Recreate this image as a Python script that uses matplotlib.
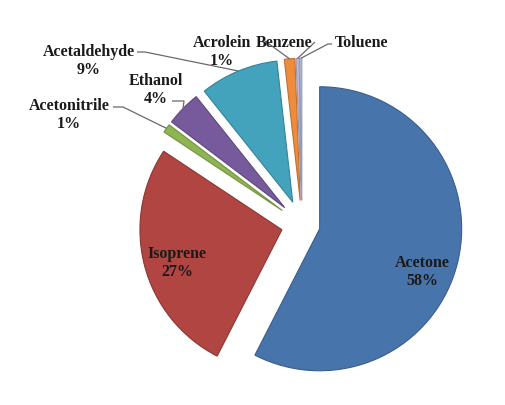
import numpy as np
import matplotlib
matplotlib.use("Agg")
import matplotlib.pyplot as plt
import matplotlib.colors as mcolors

categories = ["Acetone", "Isoprene", "Acetonitrile", "Ethanol", "Acetaldehyde",
              "Acrolein", "Benzene", "Toluene"]
values = [58, 27, 1, 4, 9, 1.2, 0.35, 0.25]
pct_labels = ["58%", "27%", "1%", "4%", "9%", "1%", "", ""]
colors = ["#4874ac", "#b04542", "#8fb552", "#775a9b", "#43a3bd", "#ef8c3c",
          "#c3b8d8", "#b4c4e2"]
explode = [0.128, 0.146, 0.17, 0.17, 0.17, 0.17, 0.17, 0.17]

W, H = 505, 406
fig = plt.figure(figsize=(W / 100, H / 100), dpi=100)
ax = fig.add_axes([0, 0, 1, 1])
R = 142.0
cx, cy = 302.0, 225.5


def px(x, y):
    return ((x - cx) / R, (cy - y) / R)


wedges, _ = ax.pie(values, colors=colors, explode=explode, startangle=90,
                   counterclock=False, radius=1.0,
                   wedgeprops=dict(linewidth=0.8))
for w, c in zip(wedges, colors):
    rgb = np.array(mcolors.to_rgb(c)) * 0.8
    w.set_edgecolor(rgb)
ax.set_xlim(-cx / R, (W - cx) / R)
ax.set_ylim(-(H - cy) / R, cy / R)
ax.set_aspect("equal")
ax.axis("off")

font = dict(family="Liberation Serif", fontweight="bold", fontsize=11.5, color="#1a1a1a")

label_pos = {
    "Acetone": (422, 272),
    "Isoprene": (177, 263),
    "Acetonitrile": (69, 115),
    "Ethanol": (156, 90),
    "Acetaldehyde": (89, 61),
    "Acrolein": (222, 52),
    "Benzene": (284, 52),
    "Toluene": (362, 52),
}
leader_start = {
    "Acetonitrile": ((113, 108), 10),
    "Ethanol": ((172, 102), 12),
    "Acetaldehyde": ((137, 53), 8),
    "Acrolein": ((265, 42), 0),
    "Benzene": ((315, 43), 0),
    "Toluene": ((332, 45), -4),
}

for w, name, pct in zip(wedges, categories, pct_labels):
    txt = name + "\n" + pct
    x, y = px(*label_pos[name])
    ax.text(x, y, txt, ha="center", va="center", linespacing=1.2, **font)
    if name in leader_start:
        (sxp, syp), stub = leader_start[name]
        th = np.deg2rad((w.theta1 + w.theta2) / 2)
        cxw, cyw = w.center
        ex = cxw + w.r * np.cos(th)
        ey = cyw + w.r * np.sin(th)
        sx, sy = px(sxp, syp)
        mx, my = px(sxp + stub, syp)
        ax.plot([sx, mx, ex], [sy, my, ey],
                color="#6a6a6a", lw=0.9, solid_capstyle="butt")

fig.savefig("out.png", dpi=100)
